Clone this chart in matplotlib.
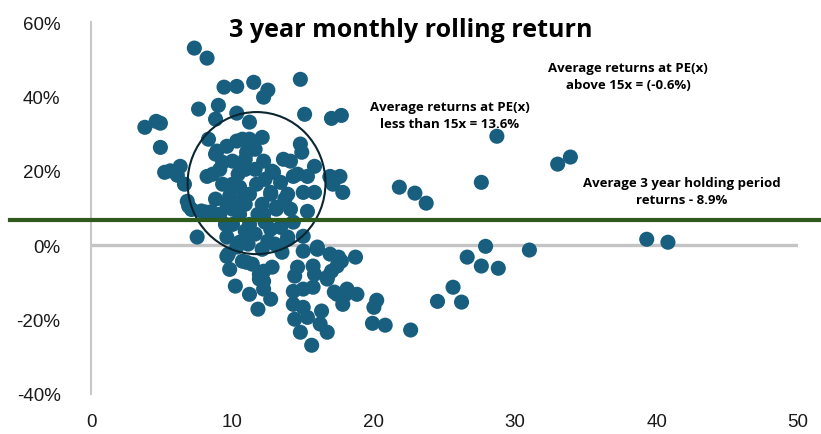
import matplotlib
matplotlib.use("Agg")
import matplotlib.pyplot as plt
from matplotlib.patches import Ellipse
from matplotlib.ticker import FuncFormatter

# PE multiple (x) and 3y rolling return (%)
pe = [7.3, 8.2, 9.4, 10.3, 11.5, 12.5, 12.2, 14.8, 7.6, 9.0, 10.3, 15.1, 17.0, 17.7,
      3.8, 4.6, 4.9, 4.9, 8.8, 11.2, 8.3, 9.6, 10.7, 12.1, 14.8, 14.9, 13.6, 14.1,
      15.8, 16.9, 17.6, 17.8, 5.2, 6.3, 6.6, 8.2, 8.8, 10.0, 11.0, 12.2, 12.8, 13.4,
      14.3, 15.0, 15.8, 9.8, 10.5, 11.7, 12.7, 6.8, 10.9, 9.1, 6.9, 8.1, 9.6, 10.9,
      12.2, 13.1, 15.3, 7.5, 9.5, 9.6, 10.9, 10.5, 12.5, 13.4, 14.3, 13.9, 15.0, 13.5,
      15.0, 16.0, 16.9, 9.6, 9.8, 11.0, 12.2, 12.8, 11.9, 10.2, 11.2, 12.2, 12.7, 11.8,
      14.6, 14.4, 15.7, 15.8, 16.7, 17.4, 17.7, 18.7, 14.3, 15.0, 15.7, 14.3, 15.0, 14.4,
      15.3, 14.8, 15.6, 16.3, 16.2, 16.7, 17.4, 18.0, 18.8, 17.8,
      28.7, 33.0, 33.9, 21.8, 22.9, 23.7, 27.6, 39.3, 40.8, 26.6, 27.9, 27.6, 28.8, 31.0,
      25.6, 24.5, 26.2, 20.2, 20.0, 19.9, 20.8, 22.6,
      9.7, 10.3, 10.7, 11.4, 11.9, 12.2, 13.9, 16.0, 17.5, 16.7, 17.0, 17.2, 18.1,
      8.9, 10.3, 9.3, 10.7, 8.6, 10.0, 10.5, 10.0, 9.1, 12.9, 12.7, 13.9, 13.1, 11.8,
      12.3, 14.6, 15.3, 16.9, 17.1,
      11.2, 11.6, 10.9, 11.6, 12.3, 11.2, 10.5, 11.2, 11.6, 12.7, 13.0, 12.1, 11.1, 10.0,
      8.8, 9.3, 10.4, 12.1, 13.7, 14.1, 5.6, 6.1, 7.8, 8.5, 7.1]
ret = [53.0, 50.3, 42.5, 42.7, 43.8, 41.7, 39.8, 44.6, 36.6, 37.6, 35.5, 35.2, 34.1, 34.9,
       31.7, 33.3, 32.8, 26.3, 33.9, 33.1, 28.5, 26.6, 28.5, 29.0, 27.2, 25.0, 23.1, 22.6,
       21.2, 18.5, 18.5, 14.2, 19.6, 21.2, 16.4, 18.5, 24.5, 22.6, 25.0, 22.6, 19.9, 16.9,
       18.5, 14.2, 14.2, 13.2, 15.6, 16.4, 14.2, 11.8, 20.4, 20.4, 10.5, 8.9, 11.0, 11.0,
       8.3, 9.7, 9.1, 2.2, 5.6, 2.2, 3.8, 0.8, 1.1, 4.8, 6.2, 2.2, 2.4, -1.9,
       -1.6, -1.1, -2.4, -3.0, -6.5, -4.6, -7.0, -5.9, -9.1, -11.0, -13.2, -11.8, -14.5, -17.2,
       -5.9, -8.3, -5.6, -7.8, -8.6, -5.6, -4.3, -3.2, -12.4, -11.8, -11.3, -15.9, -16.7, -19.9,
       -19.4, -23.4, -26.9, -17.7, -21.2, -23.4, -13.2, -13.2, -13.2, -15.9,
       29.3, 21.8, 23.7, 15.6, 14.0, 11.3, 16.9, 1.6, 0.8, -3.2, -0.3, -5.6, -6.2, -1.3,
       -11.3, -15.1, -15.3, -14.8, -16.7, -21.0, -21.5, -22.8,
       -2.4, -0.5, -4.3, -5.1, -7.8, -9.7, 1.6, -0.5, -3.2, -9.1, -7.0, -12.6, -11.8,
       25.3, 28.0, 22.3, 21.2, 19.1, 16.4, 11.8, 9.7, 8.3, 19.6, 13.7, 13.7, 10.2, 8.3,
       6.2, 19.1, 18.5, 18.3, 16.4,
       28.5, 25.8, 23.1, 20.4, 17.7, 13.7, 8.3, 5.6, 3.0, 4.3, 0.3, -1.1, 0.3, 5.6,
       12.4, 16.4, 19.1, 11.0, 12.4, 9.7, 20.0, 18.8, 9.2, 9.0, 9.6]

avg_all = 6.9  # level of the green reference line
circle_center = (11.7, 16.7)

title = "3 year monthly rolling return"
note_above = "Average returns at PE(x)\nabove 15x = (-0.6%)"
note_below = "Average returns at PE(x)\nless than 15x = 13.6%"
note_avg = "Average 3 year holding period\nreturns - 8.9%"

fig = plt.figure(figsize=(8.21, 4.35), dpi=100)
ax = fig.add_axes([0.111, 0.092, 0.861, 0.855])

ax.set_xlim(0, 50)
ax.set_ylim(-40, 60)
ax.set_xticks(range(0, 51, 10))
ax.set_yticks(range(-40, 61, 20))
ax.yaxis.set_major_formatter(FuncFormatter(lambda v, p: f"{v:.0f}%"))
for s in ["top", "right", "bottom"]:
    ax.spines[s].set_visible(False)
ax.spines["left"].set_color("#c8c8c8")
ax.spines["left"].set_linewidth(1.5)
ax.tick_params(length=0, labelsize=13.5, colors="#1a1a1a")
ax.tick_params(axis="y", pad=22)
ax.tick_params(axis="x", pad=14)
for lab in ax.get_xticklabels() + ax.get_yticklabels():
    lab.set_family("Liberation Sans")

# zero line
ax.axhline(0, xmin=0.003, xmax=1.0, color="#c4c4c4", lw=2.4, zorder=1)

ax.scatter(pe, ret, s=118, color="#175e7f", edgecolors="none", zorder=3)

ax.add_patch(Ellipse(circle_center, 9.75, 38.2, fill=False, edgecolor="#0b2630",
                     lw=1.5, zorder=4))

ax.axhline(avg_all, xmin=-0.115, xmax=1.04, color="#2f5a1e", lw=3.0,
           clip_on=False, zorder=5)

fig.text(0.5, 0.931, title, ha="center", va="center", fontsize=18,
         fontweight="bold", family="Open Sans")
fig.text(628 / 821, 1 - 77 / 435, note_above, ha="center", va="center",
         fontsize=9.5, fontweight="bold", family="Open Sans", linespacing=1.35)
fig.text(450 / 821, 1 - 116 / 435, note_below, ha="center", va="center",
         fontsize=9.5, fontweight="bold", family="Open Sans", linespacing=1.45)
fig.text(682 / 821, 1 - 192 / 435, note_avg, ha="center", va="center",
         fontsize=9.5, fontweight="bold", family="Open Sans", linespacing=1.35)

fig.savefig("out.png", dpi=100)
